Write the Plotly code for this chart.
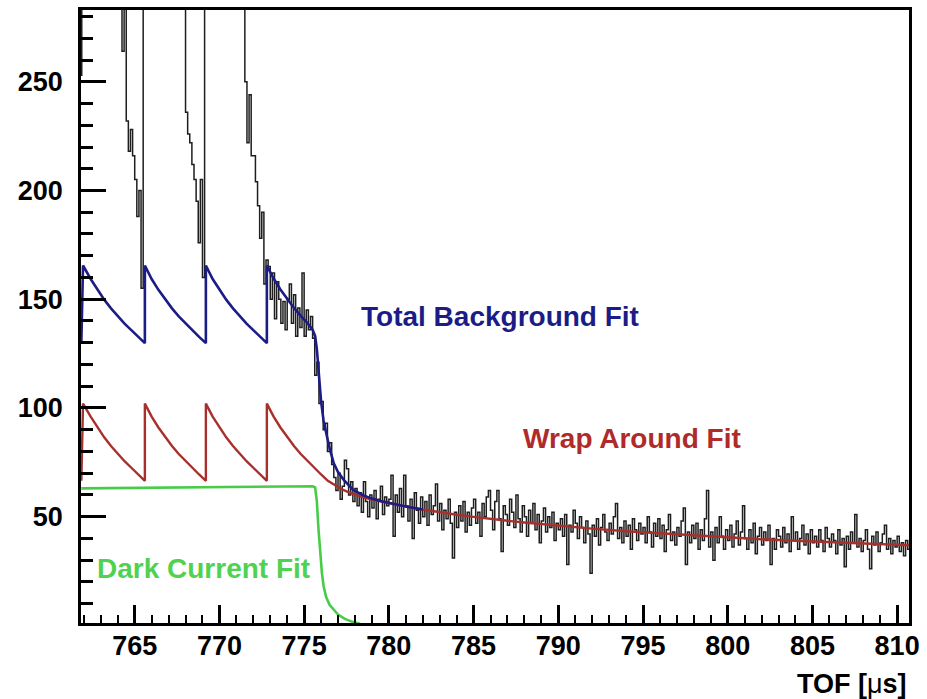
import plotly.graph_objects as go

# ---------------- data ----------------
BIN_START = 761.75      # left edge of first histogram bin [us]
BIN_WIDTH = 0.125       # histogram bin width [us]
OFF = 320               # bins that go off the top of the frame

# histogram counts, 761.75 .. 778.0 us
counts_rise = (
    [253] + [OFF] * 19 +
    [264, OFF, 232, 218, 228, 216, 205, 188, 200, 155] +
    [OFF] * 20 +
    [236, 226, 222, 212, 205, 195, 176, 205, 160] +
    [OFF] * 19 +
    [250, 222, 244, 216, 216, 204, 193, 178, 190, 157, 168] +
    [165, 150, 162, 141, 158, 150, 139, 149, 136, 150,
     157, 139, 152, 133, 146, 137, 162, 133, 145, 136,
     142, 132, 115, 121, 102, 103, 90, 93, 80, 84,
     74, 68, 62, 70, 58, 64, 76, 72, 60, 66,
     57]
)

# histogram counts, 778.0 .. 810.875 us
counts_tail = [
    63, 55, 61, 52, 66, 57, 50, 60,
    54, 62, 49, 58, 64, 51, 59, 55,
    58, 69, 41, 60, 52, 63, 50, 69,
    55, 48, 58, 40, 61, 53, 47, 59,
    50, 57, 46, 60, 51, 55, 65, 48,
    56, 44, 53, 49, 58, 47, 31, 52,
    45, 55, 48, 57, 43, 52, 46, 54,
    58, 47, 52, 41, 56, 50, 59, 62,
    53, 44, 57, 62, 49, 34, 55, 51,
    46, 58, 52, 45, 60, 49, 43, 55,
    50, 41, 53, 47, 56, 44, 51, 38,
    48, 54, 43, 50, 45, 52, 39, 47,
    44, 49, 41, 51, 28, 46, 43, 53,
    47, 40, 50, 45, 38, 48, 42, 24,
    46, 41, 49, 37, 45, 51, 43, 39,
    47, 42, 50, 56, 40, 45, 38, 48,
    41, 46, 35, 49, 44, 39, 47, 42,
    45, 38, 50, 43, 36, 47, 41, 49,
    40, 46, 34, 44, 51, 39, 43, 37,
    45, 41, 48, 54, 28, 43, 38, 46,
    40, 47, 35, 44, 39, 49, 62, 36,
    43, 30, 45, 38, 50, 41, 35, 44,
    39, 46, 36, 42, 48, 37, 43, 55,
    40, 35, 44, 38, 47, 33, 41, 45,
    37, 43, 39, 46, 28, 40, 35, 44,
    41, 36, 45, 38, 42, 34, 50, 39,
    43, 35, 40, 46, 37, 42, 33, 44,
    38, 41, 36, 44, 39, 34, 45, 40,
    36, 42, 39, 33, 44, 37, 40, 27,
    41, 35, 43, 38, 51, 36, 40, 34,
    39, 44, 35, 26, 41, 37, 43, 34,
    38, 42, 46, 35, 40, 33, 39, 36,
    41, 34, 38, 32, 39, 35, 31,
]

# Wrap Around Fit (red)
wrap_t = [761.85, 761.95, 762.4, 762.8, 763.2, 763.6, 764.0, 764.4, 764.8, 765.2, 765.6,
          765.6, 766.0, 766.4, 766.8, 767.2, 767.6, 768.0, 768.4, 768.8, 769.2,
          769.2, 769.6, 770.0, 770.4, 770.8, 771.2, 771.6, 772.0, 772.4, 772.8,
          772.8, 773.2, 773.6, 774.0, 774.4, 774.8, 775.2, 775.6, 776.0, 776.4,
          776.8, 777.2, 777.6, 778.0, 778.5, 779.0, 780.0, 781.0, 782.0, 783.0,
          784.0, 785.0, 786.0, 787.0, 788.0, 790.0, 792.0, 794.0, 796.0, 798.0,
          800.0, 802.0, 804.0, 806.0, 808.0, 810.8]
wrap_v = [66.5, 102, 96, 91, 86.5, 82.5, 78.8, 75.5, 72.5, 69.4, 66.5,
          102, 96, 91, 86.5, 82.5, 78.8, 75.5, 72.5, 69.4, 66.5,
          102, 96, 91, 86.5, 82.5, 78.8, 75.5, 72.5, 69.4, 66.5,
          102, 96, 91, 86.5, 82.5, 78.8, 75.5, 72.5, 69.4, 66.5,
          64.4, 62.7, 61.3, 60.1, 58.9, 57.9, 56.2, 54.7, 53.3, 52.0,
          50.9, 49.9, 48.9, 48.1, 47.3, 45.8, 44.5, 43.3, 42.3, 41.3,
          40.4, 39.6, 38.9, 38.2, 37.6, 36.8]

# Total Background Fit (blue)
total_t = [761.85, 761.95, 762.4, 762.8, 763.2, 763.6, 764.0, 764.4, 764.8, 765.2, 765.6,
           765.6, 766.0, 766.4, 766.8, 767.2, 767.6, 768.0, 768.4, 768.8, 769.2,
           769.2, 769.6, 770.0, 770.4, 770.8, 771.2, 771.6, 772.0, 772.4, 772.8,
           772.8, 773.2, 773.6, 774.0, 774.4, 774.8, 775.2, 775.5, 775.65, 775.75,
           775.85, 776.0, 776.15, 776.3, 776.5, 776.75, 777.0, 777.35, 777.9, 778.5,
           779.0, 779.5, 780.0, 781.0, 782.0]
total_v = [129.8, 165.5, 159.3, 154.3, 149.8, 145.8, 142.1, 138.8, 135.8, 132.7, 129.8,
           165.5, 159.3, 154.3, 149.8, 145.8, 142.1, 138.8, 135.8, 132.7, 129.8,
           165.5, 159.3, 154.3, 149.8, 145.8, 142.1, 138.8, 135.8, 132.7, 129.8,
           165.5, 159.5, 154.5, 150.0, 146.0, 142.3, 139.0, 136.0, 133.0, 127.0,
           116.0, 103.0, 94.0, 88.0, 81.5, 74.5, 70.5, 66.8, 62.3, 59.8,
           58.3, 57.2, 56.3, 54.7, 53.3]

# Dark Current Fit (green)
dark_t = [761.85, 765.0, 770.0, 775.5, 775.65, 775.75, 775.85, 775.95, 776.05,
          776.15, 776.3, 776.5, 776.75, 777.0, 777.4, 777.9, 778.3]
dark_v = [63.0, 63.2, 63.6, 64.0, 63.5, 57.0, 44.0, 33.0, 24.0,
          18.0, 13.0, 9.5, 7.0, 5.0, 3.0, 1.5, 0.8]

X_RANGE = [761.83, 810.7]
Y_RANGE = [1.1, 283]

# ---------------- figure ----------------
counts = counts_rise + counts_tail
edges = [BIN_START + BIN_WIDTH * i for i in range(len(counts) + 1)]
hist_y = counts + [counts[-1]]

FONT = "Liberation Sans, Arial, Helvetica, sans-serif"
BLUE = "#1c1c86"
RED = "#a8302c"
GREEN = "#48cc48"

fig = go.Figure()
fig.add_trace(go.Scatter(x=edges, y=hist_y, mode="lines", line_shape="hv",
                         line=dict(color="#1e1e1e", width=1.5), hoverinfo="skip"))
fig.add_trace(go.Scatter(x=wrap_t, y=wrap_v, mode="lines",
                         line=dict(color=RED, width=2.4)))
fig.add_trace(go.Scatter(x=total_t, y=total_v, mode="lines",
                         line=dict(color=BLUE, width=2.6)))
fig.add_trace(go.Scatter(x=dark_t, y=dark_v, mode="lines",
                         line=dict(color=GREEN, width=2.6)))

axis_common = dict(
    showgrid=False, zeroline=False, showline=True, linecolor="black",
    linewidth=2.5, mirror=True, ticks="inside", tickcolor="black",
    tickwidth=2.5, tickfont=dict(family=FONT, size=27, color="black", weight="bold"),
)

fig.update_layout(
    width=927, height=699,
    margin=dict(l=81, r=14, t=7, b=76),
    paper_bgcolor="white", plot_bgcolor="white",
    showlegend=False,
    xaxis=dict(range=X_RANGE, tick0=0, dtick=5, ticklen=18,
               ticklabelstandoff=-3,
               minor=dict(dtick=1, ticks="inside", ticklen=8, tickwidth=2,
                          tickcolor="black"),
               **axis_common),
    yaxis=dict(range=Y_RANGE, tick0=0, dtick=50, ticklen=25,
               ticklabelstandoff=10,
               minor=dict(dtick=10, ticks="inside", ticklen=12, tickwidth=2.5,
                          tickcolor="black"),
               **axis_common),
)

ann_font = dict(family=FONT, size=28, weight="bold")
fig.add_annotation(x=786.56, y=142, xref="x", yref="y", showarrow=False,
                   text="Total Background Fit", xanchor="center", yanchor="middle",
                   font=dict(color=BLUE, **ann_font))
fig.add_annotation(x=794.38, y=86, xref="x", yref="y", showarrow=False,
                   text="Wrap Around Fit", xanchor="center", yanchor="middle",
                   font=dict(color="#b02a2a", **ann_font))
fig.add_annotation(x=769.06, y=26, xref="x", yref="y", showarrow=False,
                   text="Dark Current Fit", xanchor="center", yanchor="middle",
                   font=dict(color="#4fd24f", **ann_font))
fig.add_annotation(x=1.0, y=-0.1, xref="paper", yref="paper", showarrow=False,
                   text="TOF [<span style='font-weight:normal'>\u03bc</span>s]",
                   xanchor="right", yanchor="middle",
                   font=dict(family=FONT, size=27, color="black", weight="bold"))

fig.write_html("out.html")
